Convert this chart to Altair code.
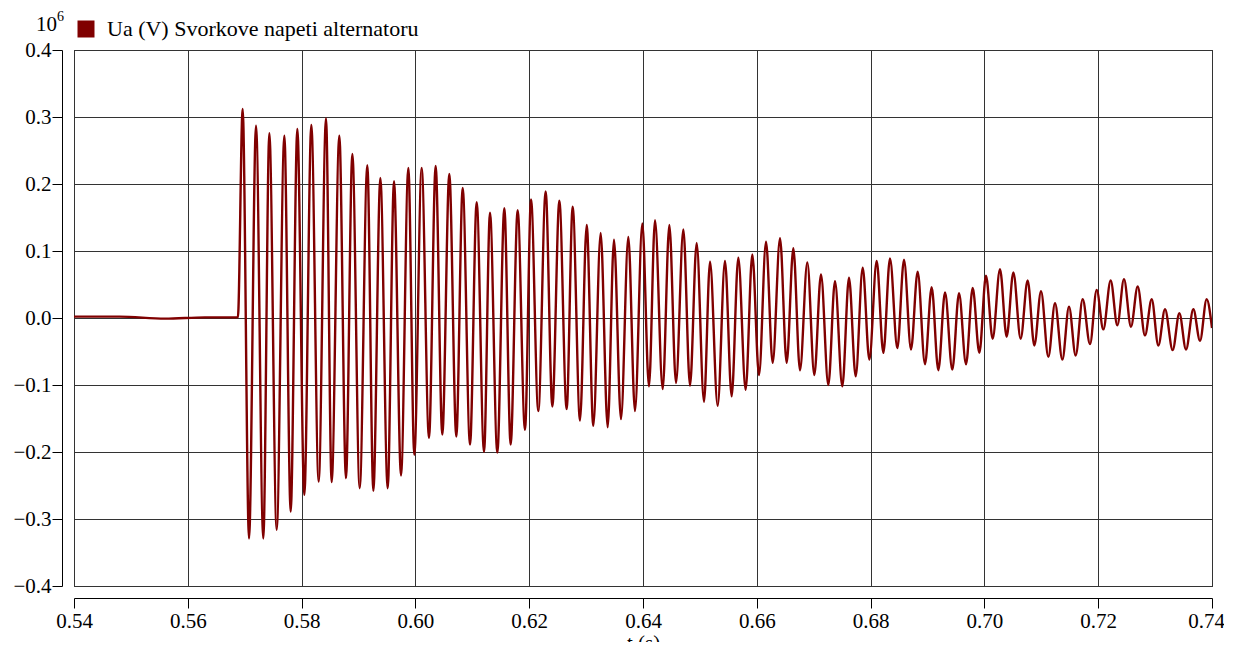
import altair as alt
import pandas as pd

SERIES = "Ua (V) Svorkove napeti alternatoru"

# pre-fault (almost zero) part, values in 10^6 V
T_PRE = [0.5400, 0.5480, 0.5560, 0.5630, 0.5688]
V_PRE = [0.002, 0.002, -0.001, 0.001, 0.001]

# oscillation extrema (time s, value 10^6 V)
T_OSC = [
    0.56964, 0.57076, 0.57199, 0.57327, 0.57433, 0.57562, 0.57697, 0.57808,
    0.57925, 0.58048, 0.58171, 0.58300, 0.58429, 0.58528, 0.58663, 0.58780,
    0.58892, 0.59021, 0.59155, 0.59261, 0.59384, 0.59513, 0.59624, 0.59747,
    0.59876, 0.59981, 0.60110, 0.60239, 0.60356, 0.60473, 0.60596, 0.60719,
    0.60831, 0.60960, 0.61077, 0.61206, 0.61311, 0.61440, 0.61563, 0.61674,
    0.61797, 0.61926, 0.62032, 0.62160, 0.62289, 0.62407, 0.62530, 0.62658,
    0.62764, 0.62893, 0.63010, 0.63127, 0.63256, 0.63379, 0.63490, 0.63613,
    0.63742, 0.63859, 0.63988, 0.64105, 0.64211, 0.64346, 0.64463, 0.64580,
    0.64709, 0.64826, 0.64943, 0.65072, 0.65178, 0.65312, 0.65441, 0.65558,
    0.65675, 0.65804, 0.65921, 0.66039, 0.66162, 0.66279, 0.66408, 0.66525,
    0.66642, 0.66759, 0.66888, 0.67011, 0.67128, 0.67257, 0.67374, 0.67503,
    0.67620, 0.67738, 0.67861, 0.67978, 0.68107, 0.68224, 0.68341, 0.68470,
    0.68587, 0.68710, 0.68827, 0.68956, 0.69073, 0.69190, 0.69308, 0.69436,
    0.69554, 0.69677, 0.69794, 0.69911, 0.70028, 0.70145, 0.70274, 0.70391,
    0.70509, 0.70637, 0.70760, 0.70878, 0.70995, 0.71124, 0.71241, 0.71370,
    0.71487, 0.71604, 0.71727, 0.71856, 0.71973, 0.72090, 0.72219, 0.72336,
    0.72453, 0.72576, 0.72694, 0.72822, 0.72940, 0.73057, 0.73174, 0.73309,
    0.73426, 0.73543, 0.73672, 0.73789, 0.73906, 0.74000,
]
V_OSC = [
    0.312, -0.329, 0.287, -0.329, 0.276, -0.316, 0.272, -0.289,
    0.282, -0.264, 0.288, -0.244, 0.298, -0.245, 0.272, -0.239,
    0.245, -0.254, 0.228, -0.258, 0.209, -0.254, 0.204, -0.235,
    0.224, -0.204, 0.224, -0.179, 0.227, -0.174, 0.215, -0.177,
    0.194, -0.189, 0.173, -0.200, 0.157, -0.201, 0.164, -0.189,
    0.161, -0.167, 0.177, -0.139, 0.189, -0.132, 0.175, -0.136,
    0.166, -0.153, 0.139, -0.161, 0.127, -0.163, 0.117, -0.151,
    0.121, -0.139, 0.141, -0.102, 0.146, -0.106, 0.139, -0.097,
    0.132, -0.101, 0.112, -0.125, 0.084, -0.131, 0.085, -0.117,
    0.090, -0.107, 0.095, -0.085, 0.114, -0.067, 0.119, -0.067,
    0.104, -0.078, 0.083, -0.085, 0.065, -0.100, 0.055, -0.102,
    0.060, -0.087, 0.075, -0.062, 0.085, -0.052, 0.089, -0.045,
    0.087, -0.047, 0.069, -0.069, 0.046, -0.078, 0.038, -0.077,
    0.037, -0.069, 0.045, -0.052, 0.063, -0.031, 0.073, -0.028,
    0.068, -0.031, 0.056, -0.041, 0.040, -0.058, 0.022, -0.062,
    0.017, -0.056, 0.028, -0.039, 0.042, -0.017, 0.056, -0.011,
    0.058, -0.013, 0.047, -0.026, 0.028, -0.041, 0.013, -0.048,
    0.007, -0.047, 0.013, -0.034, 0.028, -0.015,
]

X_TICKS = [0.54, 0.56, 0.58, 0.60, 0.62, 0.64, 0.66, 0.68, 0.70, 0.72, 0.74]
Y_TICKS = [-0.4, -0.3, -0.2, -0.1, 0.0, 0.1, 0.2, 0.3, 0.4]
EXPONENT_BASE = "10"
EXPONENT_POWER = "6"

FONT = "Liberation Serif"
LINE_COLOR = "#800000"

df = pd.DataFrame({"t": T_PRE + T_OSC, "v": V_PRE + V_OSC})
df["series"] = SERIES

line = alt.Chart(df).mark_line(strokeWidth=2.4, interpolate="monotone", clip=True).encode(
    x=alt.X(
        "t:Q",
        scale=alt.Scale(domain=[0.54, 0.74], nice=False, zero=False),
        axis=alt.Axis(
            values=X_TICKS, format=".2f", labelFlush=False, offset=12, tickSize=10,
            labelPadding=2, title="t (s)", titlePadding=1,
            labelOffset=alt.condition("datum.value > 0.735", alt.value(-6), alt.value(0)),
        ),
    ),
    y=alt.Y(
        "v:Q",
        scale=alt.Scale(domain=[-0.4, 0.4], nice=False, zero=False),
        axis=alt.Axis(
            values=Y_TICKS, format=".1f", labelFlush=False, offset=12, tickSize=10,
            labelPadding=1, title=None,
        ),
    ),
    color=alt.Color(
        "series:N",
        scale=alt.Scale(range=[LINE_COLOR]),
        legend=alt.Legend(
            orient="none", legendX=1, legendY=-32, title=None, symbolType="square",
            symbolSize=289, symbolFillColor=LINE_COLOR, symbolStrokeColor=LINE_COLOR,
            symbolStrokeWidth=0, labelFont=FONT, labelFontSize=22, labelColor="black",
            labelOffset=10, padding=0, labelLimit=600,
        ),
    ),
)

base_txt = alt.Chart(pd.DataFrame({"b": [EXPONENT_BASE], "p": [EXPONENT_POWER]}))
ten = base_txt.mark_text(font=FONT, fontSize=21, align="left", baseline="alphabetic", color="black").encode(
    text="b:N", x=alt.value(-38), y=alt.value(-19)
)
power = base_txt.mark_text(font=FONT, fontSize=14, align="left", baseline="alphabetic", color="black").encode(
    text="p:N", x=alt.value(-17), y=alt.value(-29)
)

chart = alt.layer(line, ten, power).properties(
    width=1138, height=536,
    padding={"left": 66, "top": 42, "right": 12, "bottom": 56},
    autosize=alt.AutoSizeParams(type="none"),
).configure_view(
    stroke="black", strokeWidth=1
).configure_axis(
    labelFont=FONT, labelFontSize=21, labelColor="black",
    titleFont=FONT, titleFontSize=21, titleFontWeight="normal", titleColor="black",
    domainColor="black", tickColor="black", domainWidth=1, tickWidth=1,
    grid=True, gridColor="#333333", gridWidth=1, gridOpacity=1,
)

chart.save("out.html", embed_options={"renderer": "svg", "actions": False})
